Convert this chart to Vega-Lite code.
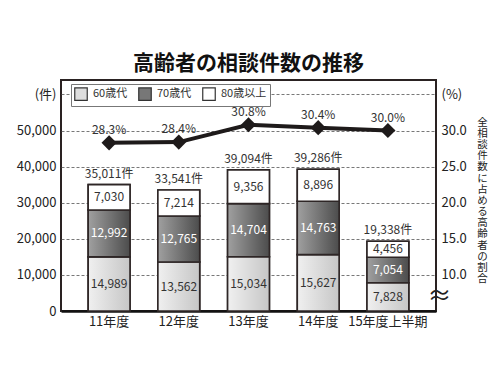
{
  "$schema": "https://vega.github.io/schema/vega-lite/v6.json",
  "width": 375,
  "height": 231,
  "autosize": {"type": "none"},
  "padding": {"left": 61, "top": 80, "right": 64, "bottom": 64},
  "background": "white",
  "title": {"text": "高齢者の相談件数の推移", "fontSize": 21, "font": "Noto Sans CJK JP", "fontWeight": "bold", "color": "#111111", "anchor": "middle", "baseline": "bottom", "offset": -15},
  "config": {
    "font": "Noto Sans CJK JP",
    "view": {"stroke": "#2a2222", "strokeWidth": 2},
    "axis": {"labelOverlap": false},
    "legend": {"orient": "none", "legendX": 10, "legendY": 4, "direction": "horizontal", "strokeColor": "#777777", "fillColor": "white", "padding": 3, "symbolType": "square", "symbolSize": 156, "symbolStrokeColor": "#333333", "symbolStrokeWidth": 1.2, "labelFontSize": 11, "labelColor": "#333333", "columnPadding": 8, "labelOffset": 5, "symbolOpacity": 1}
  },
  "datasets": {
    "bars": [
      {"year": "11年度", "age": "60歳代", "count": 14989},
      {"year": "11年度", "age": "70歳代", "count": 12992},
      {"year": "11年度", "age": "80歳以上", "count": 7030},
      {"year": "12年度", "age": "60歳代", "count": 13562},
      {"year": "12年度", "age": "70歳代", "count": 12765},
      {"year": "12年度", "age": "80歳以上", "count": 7214},
      {"year": "13年度", "age": "60歳代", "count": 15034},
      {"year": "13年度", "age": "70歳代", "count": 14704},
      {"year": "13年度", "age": "80歳以上", "count": 9356},
      {"year": "14年度", "age": "60歳代", "count": 15627},
      {"year": "14年度", "age": "70歳代", "count": 14763},
      {"year": "14年度", "age": "80歳以上", "count": 8896},
      {"year": "15年度上半期", "age": "60歳代", "count": 7828},
      {"year": "15年度上半期", "age": "70歳代", "count": 7054},
      {"year": "15年度上半期", "age": "80歳以上", "count": 4456}
    ],
    "totals": [
      {"year": "11年度", "total": 35011, "label": "35,011件"},
      {"year": "12年度", "total": 33541, "label": "33,541件"},
      {"year": "13年度", "total": 39094, "label": "39,094件"},
      {"year": "14年度", "total": 39286, "label": "39,286件"},
      {"year": "15年度上半期", "total": 19338, "label": "19,338件"}
    ],
    "pct": [
      {"year": "11年度", "pct": 28.3, "label": "28.3%"},
      {"year": "12年度", "pct": 28.4, "label": "28.4%"},
      {"year": "13年度", "pct": 30.8, "label": "30.8%"},
      {"year": "14年度", "pct": 30.4, "label": "30.4%"},
      {"year": "15年度上半期", "pct": 30.0, "label": "30.0%"}
    ]
  },
  "layer": [
    {
      "layer": [
        {
          "data": {"name": "bars"},
          "mark": {"type": "bar", "stroke": "#2e2626", "strokeWidth": 1.6},
          "encoding": {
            "x": {"field": "year", "type": "nominal", "sort": ["11年度", "12年度", "13年度", "14年度", "15年度上半期"], "scale": {"paddingInner": 0.4, "paddingOuter": 0.39},
              "axis": {"title": null, "labelAngle": 0, "labelFontSize": 13, "labelColor": "#222222", "labelPadding": 4, "ticks": false, "domainColor": "#111111", "domainWidth": 2.5}},
            "y": {"field": "count", "type": "quantitative", "stack": "zero", "scale": {"domain": [0, 64000], "nice": false},
              "axis": {"title": null, "values": [0, 10000, 20000, 30000, 40000, 50000, 60000], "labelOverlap": false, "labelExpr": "datum.value == 60000 ? '(件)' : format(datum.value, ',')", "grid": true, "gridDash": [3, 2], "gridColor": "#555555", "gridWidth": 0.8, "ticks": false, "domain": false, "labelFontSize": 13, "labelColor": "#222222", "labelPadding": 5}},
            "order": {"field": "age", "sort": "ascending"},
            "color": {"field": "age", "type": "nominal", "title": null,
              "scale": {"domain": ["60歳代", "70歳代", "80歳以上"], "range": ["#dddddd", "#777777", "#ffffff"]}}
          }
        },
        {
          "data": {"name": "bars"},
          "mark": {"type": "bar", "stroke": "#2e2626", "strokeWidth": 1.6},
          "encoding": {
            "x": {"field": "year", "type": "nominal", "sort": ["11年度", "12年度", "13年度", "14年度", "15年度上半期"]},
            "y": {"field": "count", "type": "quantitative", "stack": "zero",
              "axis": {"title": null, "values": [0, 10000, 20000, 30000, 40000, 50000, 60000], "labelOverlap": false, "labelExpr": "datum.value == 60000 ? '(件)' : format(datum.value, ',')", "grid": true, "gridDash": [3, 2], "gridColor": "#555555", "gridWidth": 0.8, "ticks": false, "domain": false, "labelFontSize": 13, "labelColor": "#222222", "labelPadding": 5}},
            "order": {"field": "age", "sort": "ascending"},
            "fill": {"condition": [
              {"test": "datum.age == '60歳代'", "value": {"gradient": "linear", "x1": 0, "y1": 0, "x2": 1, "y2": 0, "stops": [{"offset": 0, "color": "#f0f0f0"}, {"offset": 1, "color": "#c6c6c6"}]}},
              {"test": "datum.age == '70歳代'", "value": {"gradient": "linear", "x1": 0, "y1": 0, "x2": 1, "y2": 0, "stops": [{"offset": 0, "color": "#a0a0a0"}, {"offset": 1, "color": "#4c4c4c"}]}}
            ], "value": "#ffffff"}
          }
        },
        {
          "data": {"name": "bars"},
          "transform": [
            {"stack": "count", "groupby": ["year"], "sort": [{"field": "age"}], "as": ["y0", "y1"]},
            {"fold": ["y0", "y1"], "as": ["edge", "pos"]},
            {"aggregate": [{"op": "mean", "field": "pos", "as": "mid"}], "groupby": ["year", "age", "count"]}
          ],
          "mark": {"type": "text", "fontSize": 12, "baseline": "middle"},
          "encoding": {
            "x": {"field": "year", "type": "nominal", "sort": ["11年度", "12年度", "13年度", "14年度", "15年度上半期"]},
            "y": {"field": "mid", "type": "quantitative",
              "axis": {"title": null, "values": [0, 10000, 20000, 30000, 40000, 50000, 60000], "labelOverlap": false, "labelExpr": "datum.value == 60000 ? '(件)' : format(datum.value, ',')", "grid": true, "gridDash": [3, 2], "gridColor": "#555555", "gridWidth": 0.8, "ticks": false, "domain": false, "labelFontSize": 13, "labelColor": "#222222", "labelPadding": 5}},
            "text": {"field": "count", "type": "quantitative", "format": ","},
            "color": {"condition": {"test": "datum.age == '70歳代'", "value": "#ffffff"}, "value": "#333333"}
          }
        },
        {
          "data": {"name": "totals"},
          "mark": {"type": "text", "fontSize": 12, "baseline": "bottom", "dy": -4, "color": "#333333"},
          "encoding": {
            "x": {"field": "year", "type": "nominal", "sort": ["11年度", "12年度", "13年度", "14年度", "15年度上半期"]},
            "y": {"field": "total", "type": "quantitative",
              "axis": {"title": null, "values": [0, 10000, 20000, 30000, 40000, 50000, 60000], "labelOverlap": false, "labelExpr": "datum.value == 60000 ? '(件)' : format(datum.value, ',')", "grid": true, "gridDash": [3, 2], "gridColor": "#555555", "gridWidth": 0.8, "ticks": false, "domain": false, "labelFontSize": 13, "labelColor": "#222222", "labelPadding": 5}},
            "text": {"field": "label"}
          }
        }
      ]
    },
    {
      "data": {"name": "pct"},
      "layer": [
        {
          "mark": {"type": "line", "stroke": "#1e1a1a", "strokeWidth": 4},
          "encoding": {
            "x": {"field": "year", "type": "nominal", "sort": ["11年度", "12年度", "13年度", "14年度", "15年度上半期"]},
            "y": {"field": "pct", "type": "quantitative", "scale": {"domain": [5, 37], "nice": false, "zero": false},
              "axis": {"orient": "right", "values": [7, 10, 15, 20, 25, 30, 35], "labelOverlap": false,
                "labelExpr": "datum.value == 35 ? '(%)' : datum.value == 7 ? '≈' : format(datum.value, '.1f')",
                "labelFontSize": {"condition": {"test": "datum.value == 7", "value": 24}, "value": 13},
                "labelPadding": {"condition": {"test": "datum.value == 7", "value": -9}, "value": 5},
                "labelColor": "#222222", "grid": false, "ticks": false, "domain": false,
                "title": ["全", "相", "談", "件", "数", "に", "占", "め", "る", "高", "齢", "者", "の", "割", "合"],
                "titleAngle": 0, "titleX": 46, "titleY": 37, "titleAlign": "center", "titleBaseline": "top", "titleFontSize": 10.5, "titleFontWeight": "normal", "titleLineHeight": 11.2, "titleColor": "#222222"}}
          }
        },
        {
          "mark": {"type": "point", "shape": "diamond", "filled": true, "size": 230, "color": "#1e1a1a", "opacity": 1},
          "encoding": {
            "x": {"field": "year", "type": "nominal", "sort": ["11年度", "12年度", "13年度", "14年度", "15年度上半期"]},
            "y": {"field": "pct", "type": "quantitative",
              "axis": {"orient": "right", "values": [7, 10, 15, 20, 25, 30, 35], "labelOverlap": false,
                "labelExpr": "datum.value == 35 ? '(%)' : datum.value == 7 ? '≈' : format(datum.value, '.1f')",
                "labelFontSize": {"condition": {"test": "datum.value == 7", "value": 24}, "value": 13},
                "labelPadding": {"condition": {"test": "datum.value == 7", "value": -9}, "value": 5},
                "labelColor": "#222222", "grid": false, "ticks": false, "domain": false,
                "title": ["全", "相", "談", "件", "数", "に", "占", "め", "る", "高", "齢", "者", "の", "割", "合"],
                "titleAngle": 0, "titleX": 46, "titleY": 37, "titleAlign": "center", "titleBaseline": "top", "titleFontSize": 10.5, "titleFontWeight": "normal", "titleLineHeight": 11.2, "titleColor": "#222222"}}
          }
        },
        {
          "mark": {"type": "text", "fontSize": 12, "baseline": "middle", "dy": -13, "color": "#333333"},
          "encoding": {
            "x": {"field": "year", "type": "nominal", "sort": ["11年度", "12年度", "13年度", "14年度", "15年度上半期"]},
            "y": {"field": "pct", "type": "quantitative",
              "axis": {"orient": "right", "values": [7, 10, 15, 20, 25, 30, 35], "labelOverlap": false,
                "labelExpr": "datum.value == 35 ? '(%)' : datum.value == 7 ? '≈' : format(datum.value, '.1f')",
                "labelFontSize": {"condition": {"test": "datum.value == 7", "value": 24}, "value": 13},
                "labelPadding": {"condition": {"test": "datum.value == 7", "value": -9}, "value": 5},
                "labelColor": "#222222", "grid": false, "ticks": false, "domain": false,
                "title": ["全", "相", "談", "件", "数", "に", "占", "め", "る", "高", "齢", "者", "の", "割", "合"],
                "titleAngle": 0, "titleX": 46, "titleY": 37, "titleAlign": "center", "titleBaseline": "top", "titleFontSize": 10.5, "titleFontWeight": "normal", "titleLineHeight": 11.2, "titleColor": "#222222"}},
            "text": {"field": "label"}
          }
        }
      ]
    }
  ],
  "resolve": {"scale": {"y": "independent"}}
}
